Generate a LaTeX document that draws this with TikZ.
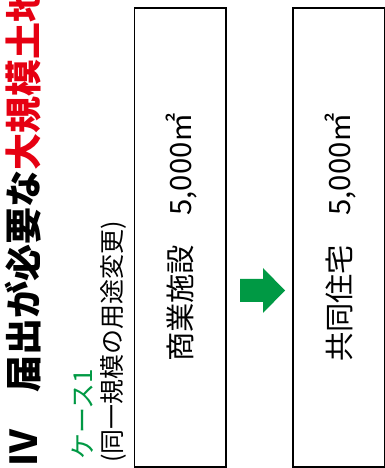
\documentclass[tikz,border=0pt]{standalone}
\usepackage{fontspec}
\newfontfamily\jp{Noto Sans CJK JP}
\definecolor{jgreen}{RGB}{0,153,68}
\definecolor{jred}{RGB}{230,0,18}
\tikzset{
  box/.style={draw=black, line width=1.8pt, rectangle, rotate=90, inner sep=0pt,
    minimum width=459pt, minimum height=91.5pt},
  boxtext/.style={rotate=90, inner sep=0pt, font=\jp\fontsize{29.3}{31}\selectfont},
  vtext/.style={rotate=90, inner sep=0pt, anchor=west}
}
\begin{document}
\begin{tikzpicture}[x=1pt,y=1pt]
\useasboundingbox (0,0) rectangle (385,468);
\clip (0,0) rectangle (385,468);
\fill[white] (0,0) rectangle (385,468);
\node[vtext, font=\jp\bfseries\fontsize{37}{39}\selectfont] (title) at (23,1) {Ⅳ　届出が必要な\textcolor{jred}{大規模土地}};
\node[vtext, text=jgreen, font=\jp\fontsize{26}{28}\selectfont] (case) at (82.5,8) {ケース1};
\node[vtext, font=\jp\fontsize{25}{27}\selectfont] (sub) at (113.5,5) {(同一規模の用途変更)};
\node[box] (b1) at (180.25,230.5) {};
\node[box] (b2) at (339,230.5) {};
\node[boxtext] (t1) at (b1.center) [yshift=-1.5pt] {商業施設　5,000㎡};
\node[boxtext] (t2) at (b2.center) [yshift=-1.5pt] {共同住宅　5,000㎡};
\fill[jgreen] (240,189) -- (263,189) -- (263,200) -- (285,177.5) -- (263,155) -- (263,166) -- (240,166) -- cycle;
\end{tikzpicture}
\end{document}
